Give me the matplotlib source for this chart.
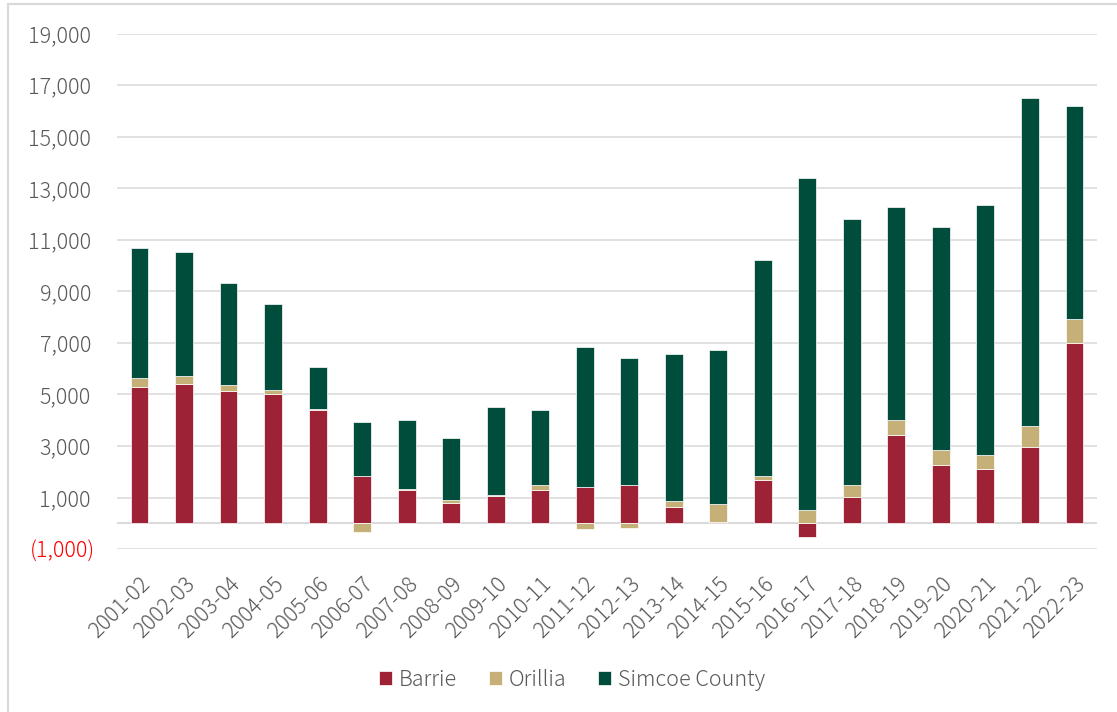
import matplotlib
matplotlib.use("Agg")
import matplotlib.pyplot as plt
from matplotlib.patches import Rectangle
from matplotlib.ticker import FixedLocator, FuncFormatter
from matplotlib.transforms import ScaledTranslation
import numpy as np

plt.rcParams['font.family'] = ['Noto Sans CJK JP', 'DejaVu Sans']
plt.rcParams['font.weight'] = 'light'

years = ['2001-02', '2002-03', '2003-04', '2004-05', '2005-06', '2006-07',
         '2007-08', '2008-09', '2009-10', '2010-11', '2011-12', '2012-13',
         '2013-14', '2014-15', '2015-16', '2016-17', '2017-18', '2018-19',
         '2019-20', '2020-21', '2021-22', '2022-23']
barrie = [5300, 5420, 5125, 5010, 4390, 1850, 1300, 775, 1045, 1280, 1410,
          1490, 630, 60, 1700, -520, 1030, 3410, 2250, 2090, 2950, 7010]
orillia = [350, 300, 250, 170, 50, -340, 40, 130, 55, 210, -230, -170, 235,
           700, 140, 505, 440, 610, 600, 570, 830, 930]
simcoe = [5020, 4800, 3950, 3340, 1620, 2090, 2670, 2420, 3430, 2900, 5420,
          4930, 5710, 5950, 8360, 12900, 10330, 8260, 8660, 9680, 12710, 8270]
y_ticks = list(range(-1000, 19001, 2000))

series = [("Barrie", barrie, "#9D2235"),
          ("Orillia", orillia, "#C5B078"),
          ("Simcoe County", simcoe, "#004D3B")]

fig = plt.figure(figsize=(11.17, 7.12), dpi=100)
ax = fig.add_axes([0.1050, 0.2288, 0.8768, 0.7239])

x = np.arange(len(years))
pos_base = np.zeros(len(years))
neg_base = np.zeros(len(years))
for name, vals, col in series:
    v = np.array(vals, dtype=float)
    bottom = np.where(v >= 0, pos_base, neg_base)
    ax.bar(x, v, bottom=bottom, width=0.4, color=col, edgecolor='white',
           linewidth=0.5, label=name, zorder=3)
    pos_base += np.where(v >= 0, v, 0)
    neg_base += np.where(v < 0, v, 0)

ax.set_xlim(-0.5, len(years) - 0.5)
ax.set_ylim(-1000, 19000)
ax.yaxis.set_major_locator(FixedLocator(y_ticks))


def fmt(v, _):
    if v < 0:
        return f"({-v:,.0f})"
    return f"{v:,.0f}"


ax.yaxis.set_major_formatter(FuncFormatter(fmt))
ax.grid(axis='y', color='#D9D9D9', linewidth=1.1, zorder=0)
ax.axhline(0, color='#D9D9D9', linewidth=1.4, zorder=1)
for s in ax.spines.values():
    s.set_visible(False)

ax.tick_params(axis='y', length=0, pad=19, labelsize=15.5, labelcolor='#595959')
ax.tick_params(axis='x', length=0, pad=17, labelsize=15.5, labelcolor='#595959')
ax.set_xticks(x)
ax.set_xticklabels(years, rotation=45, ha='right', va='top',
                   rotation_mode='anchor')

# negative values shown in red, shifted so the closing parenthesis hangs out
for tick, val in zip(ax.yaxis.get_major_ticks(len(y_ticks)), y_ticks):
    if val < 0:
        tick.label1.set_color('#FF0000')
        tick.label1.set_transform(tick.label1.get_transform() +
                                  ScaledTranslation(4.6 / 100, 0,
                                                    fig.dpi_scale_trans))

fig.legend(loc='center', bbox_to_anchor=(0.512, 0.0456), ncol=3,
           frameon=False, fontsize=15.5, handlelength=0.6, handleheight=0.6,
           handletextpad=0.3, columnspacing=1.5, labelcolor='#595959')

fig.patches.append(Rectangle((8.3 / 1117, -0.05), 1.2, 1 - 4.3 / 712 + 0.05,
                             transform=fig.transFigure, fill=False,
                             edgecolor='#D9D9D9', linewidth=1.5,
                             clip_on=False))

fig.savefig("out.png", dpi=100)
